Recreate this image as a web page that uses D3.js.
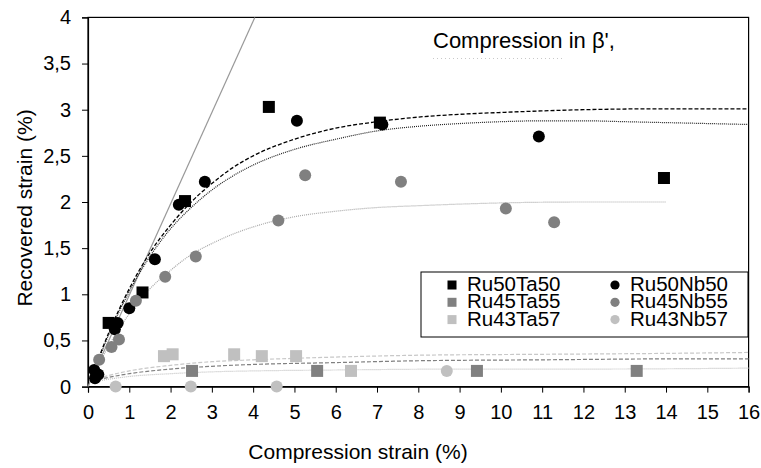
<!DOCTYPE html>
<html lang="en">
<head>
    <meta charset="utf-8">
    <title>Recovered strain</title>
    <style>
      body { margin: 0; background: #fff; }
      svg text { font-family: "Liberation Sans", Arial, sans-serif; fill: #000; }
    </style>
    <!-- D3 -->
    <script src="https://cdn.jsdelivr.net/npm/d3@7"></script>
</head>
<body>
  <div id="chart"></div>
  <script>
    // measured points [strain, recovered]
    var ru50ta50 = [[0.50,0.69],[1.32,1.02],[2.35,2.01],[4.38,3.03],[7.07,2.86],[13.95,2.26]];
    var ru45ta55 = [[2.52,0.17],[5.55,0.17],[9.42,0.17],[13.29,0.17]];
    var ru43ta57 = [[1.84,0.33],[2.05,0.35],[3.54,0.35],[4.21,0.33],[5.04,0.33],[6.37,0.17]];
    var ru50nb50 = [[0.15,0.18],[0.25,0.13],[0.17,0.09],[0.65,0.62],[0.72,0.69],[1.00,0.85],
                    [1.62,1.38],[2.20,1.97],[2.83,2.22],[5.06,2.88],[7.13,2.84],[10.92,2.71]];
    var ru45nb55 = [[0.27,0.29],[0.57,0.43],[0.75,0.51],[1.16,0.93],[1.87,1.19],[2.61,1.41],
                    [4.61,1.80],[5.26,2.29],[7.58,2.22],[10.12,1.93],[11.29,1.78]];
    var ru43nb57 = [[0.67,0.0],[2.49,0.0],[4.57,0.0],[8.69,0.17]];

    // fitted curves
    var fitRu50ta50 = [[0.1,0.12],[0.5,0.58],[1,1.06],[1.5,1.45],[2,1.75],[2.5,2.0],[3,2.2],[3.5,2.37],
                       [4,2.5],[5,2.68],[6,2.8],[7,2.87],[8,2.92],[9,2.95],[10,2.97],[12,3.0],[14,3.01],[16,3.01]];
    var fitRu50nb50 = [[0.1,0.1],[0.5,0.56],[1,1.03],[1.5,1.41],[2,1.71],[2.5,1.94],[3,2.13],[3.5,2.28],
                       [4,2.4],[5,2.57],[6,2.68],[7,2.77],[8,2.82],[9,2.85],[10,2.87],[11,2.88],[12,2.88],
                       [13,2.87],[14,2.86],[15,2.85],[16,2.84]];
    var fitRu45nb55 = [[0.1,0.1],[0.5,0.44],[1,0.79],[1.5,1.06],[2,1.26],[2.5,1.43],[3,1.55],[3.5,1.65],
                       [4,1.73],[5,1.84],[6,1.9],[7,1.94],[8,1.96],[10,1.99],[12,2.0],[14,2.0]];
    var fitRu43ta57 = [[0.1,0.06],[0.5,0.12],[1,0.17],[2,0.23],[3,0.27],[4,0.29],[6,0.32],[8,0.34],
                       [11,0.35],[14,0.36],[16,0.37]];
    var fitRu45ta55 = [[0.1,0.06],[0.5,0.10],[1,0.14],[2,0.19],[3,0.22],[4,0.24],[6,0.26],[8,0.28],
                       [11,0.29],[14,0.30],[16,0.30]];
    var fitRu43nb57 = [[0.1,0.05],[0.5,0.08],[1,0.11],[2,0.14],[3,0.16],[4,0.17],[6,0.18],[9,0.19],
                       [12,0.19],[16,0.20]];
    var elasticLine = [[0,0],[4.04,4]];

    var xTicks = d3.range(0, 17);
    var yTicks = [0, 0.5, 1, 1.5, 2, 2.5, 3, 3.5, 4];
    var legendNames = ["Ru50Ta50","Ru45Ta55","Ru43Ta57","Ru50Nb50","Ru45Nb55","Ru43Nb57"];
    var legendColors = ["#000000","#808080","#c0c0c0","#000000","#808080","#c0c0c0"];

    var svg = d3.select("#chart")
                .append("svg")
                .attr("width", 761)
                .attr("height", 468);

    var x = d3.scaleLinear().domain([0, 16]).range([88, 748.6]);
    var y = d3.scaleLinear().domain([0, 4]).range([386.6, 17.4]);

    function fmt(v) {
      return String(v).replace(".", ",");
    }

    // frame
    svg.append("rect")
       .attr("x", x(0)).attr("y", y(4))
       .attr("width", x(16) - x(0)).attr("height", y(0) - y(4))
       .attr("fill", "none").attr("stroke", "#000").attr("stroke-width", 1.2);

    var xAxis = svg.append("g")
       .attr("transform", "translate(0," + y(0) + ")")
       .call(d3.axisBottom(x).tickValues(xTicks).tickSize(6).tickPadding(12).tickFormat(fmt));
    var yAxis = svg.append("g")
       .attr("transform", "translate(" + x(0) + ",0)")
       .call(d3.axisLeft(y).tickValues(yTicks).tickSize(6).tickPadding(11).tickFormat(fmt));
    [xAxis, yAxis].forEach(function(a) {
      a.select(".domain").attr("stroke-width", 1.2);
      a.selectAll("line").attr("stroke-width", 1);
      a.selectAll("text").attr("font-size", 20)
       .attr("font-family", "'Liberation Sans', Arial, sans-serif");
    });

    svg.append("text")
       .attr("x", 358).attr("y", 459)
       .attr("text-anchor", "middle").attr("font-size", 21)
       .text("Compression strain (%)");
    svg.append("text")
       .attr("transform", "translate(32,208) rotate(-90)")
       .attr("text-anchor", "middle").attr("font-size", 21)
       .text("Recovered strain (%)");

    var line = d3.line()
                 .x(function(d) { return x(d[0]); })
                 .y(function(d) { return y(d[1]); })
                 .curve(d3.curveMonotoneX);

    var curves = [
      [elasticLine, "#999999", null, 1.2],
      [fitRu43ta57, "#c8c8c8", "4,2", 1.2],
      [fitRu45ta55, "#808080", "4,2", 1.2],
      [fitRu43nb57, "#c0c0c0", "1,1", 1.2],
      [fitRu45nb55, "#a8a8a8", "1,1", 1.2],
      [fitRu50nb50, "#222222", "1,1", 1.2],
      [fitRu50ta50, "#000000", "4,2", 1.3]
    ];
    curves.forEach(function(c) {
      svg.append("path")
         .attr("d", line(c[0]))
         .attr("fill", "none")
         .attr("stroke", c[1])
         .attr("stroke-width", c[3])
         .attr("stroke-dasharray", c[2]);
    });

    function squares(data, color) {
      svg.selectAll(null).data(data).enter().append("rect")
         .attr("x", function(d) { return x(d[0]) - 6; })
         .attr("y", function(d) { return y(d[1]) - 6; })
         .attr("width", 12).attr("height", 12)
         .attr("fill", color);
    }
    function circles(data, color) {
      svg.selectAll(null).data(data).enter().append("circle")
         .attr("cx", function(d) { return x(d[0]); })
         .attr("cy", function(d) { return y(d[1]); })
         .attr("r", 6)
         .attr("fill", color);
    }
    squares(ru50ta50, "#000000");
    squares(ru45ta55, "#808080");
    squares(ru43ta57, "#c0c0c0");
    circles(ru50nb50, "#000000");
    circles(ru45nb55, "#808080");
    circles(ru43nb57, "#c0c0c0");

    // title
    svg.append("text")
       .attr("x", 433).attr("y", 48)
       .attr("font-size", 22)
       .text("Compression in \u03B2',");
    svg.append("line")
       .attr("x1", 433).attr("x2", 563).attr("y1", 58.5).attr("y2", 58.5)
       .attr("stroke", "#c8c8c8").attr("stroke-dasharray", "1,3");

    // legend
    var legend = svg.append("g");
    legend.append("rect")
          .attr("x", 421).attr("y", 272).attr("width", 327).attr("height", 65)
          .attr("fill", "#fff").attr("stroke", "#000").attr("stroke-width", 1);
    legendNames.forEach(function(n, i) {
      var col = Math.floor(i / 3), row = i % 3;
      var cx = col == 0 ? 452 : 615;
      var cy = 285 + row * 17.3;
      if (col == 0) {
        legend.append("rect")
              .attr("x", cx - 4.5).attr("y", cy - 4.5).attr("width", 9).attr("height", 9)
              .attr("fill", legendColors[i]);
      } else {
        legend.append("circle")
              .attr("cx", cx).attr("cy", cy).attr("r", 4.6)
              .attr("fill", legendColors[i]);
      }
      legend.append("text")
            .attr("x", cx + 15).attr("y", cy + 6)
            .attr("font-size", 20.5)
            .text(n);
    });
  </script>
</body>
</html>
